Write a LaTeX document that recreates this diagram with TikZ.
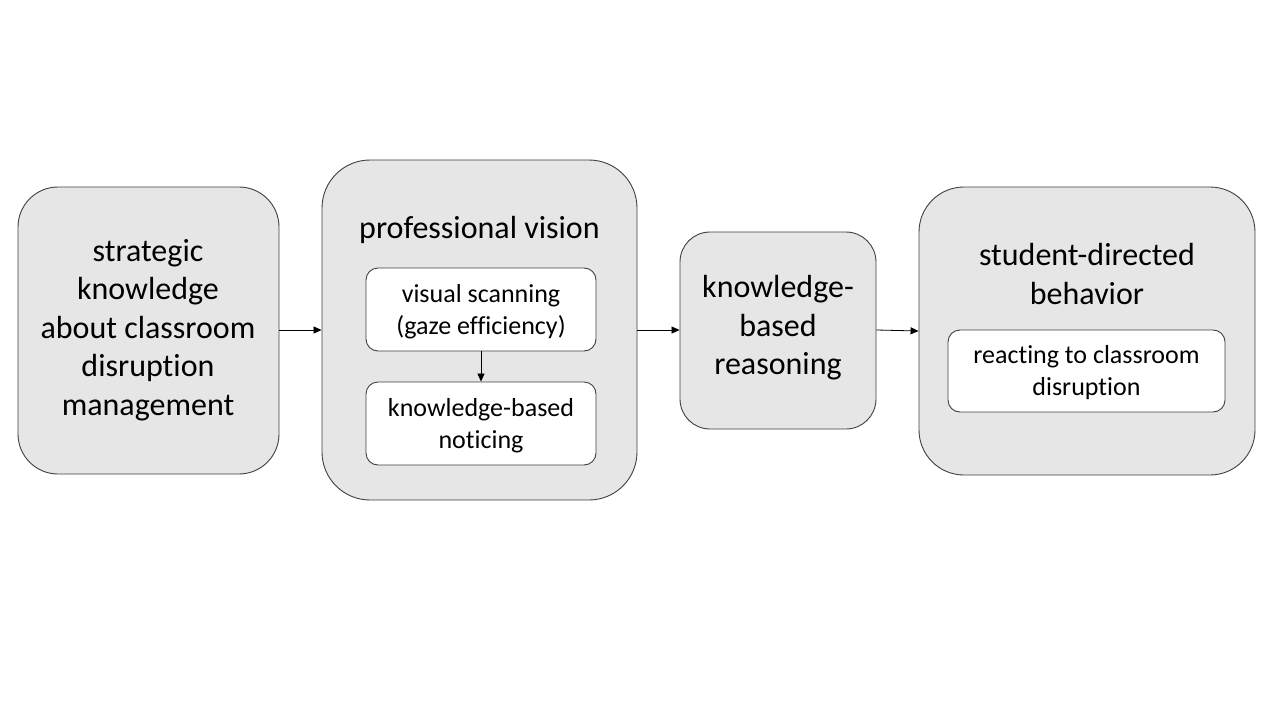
\documentclass[tikz,border=0pt]{standalone}
\usepackage{fontspec}
\setmainfont{Carlito}[Ligatures=NoCommon]
\usetikzlibrary{arrows.meta}
\definecolor{boxfill}{HTML}{E7E6E6}
\definecolor{boxline}{HTML}{404040}
\tikzset{
  outerbox/.style={draw=boxline, line width=0.9pt, fill=boxfill, inner sep=0pt},
  innerbox/.style={draw=boxline, line width=0.9pt, fill=white, inner sep=0pt, rounded corners=12pt},
  smalltext/.style={align=center, font=\fontsize{26}{32}\selectfont, inner sep=0pt},
  bigtext/.style={align=center, font=\fontsize{32}{38.5}\selectfont, inner sep=0pt},
  conn/.style={draw=black, line width=0.8pt, -{Triangle[length=8pt,width=7pt]}}
}
\begin{document}
\begin{tikzpicture}[x=1pt,y=-1pt]
\useasboundingbox (0,0) rectangle (1280,720);
% box 1
\node[outerbox, rounded corners=40pt, minimum width=261pt, minimum height=287pt] (b1) at (148.5,330.5) {};
\node[bigtext] (t1) at (148,330) {strategic\\knowledge\\about classroom\\disruption\\management};
% box 2
\node[outerbox, rounded corners=48pt, minimum width=315pt, minimum height=340pt] (b2) at (479.5,330) {};
\node[bigtext] (t2) at (479.5,230) {professional vision};
\node[innerbox, minimum width=230pt, minimum height=83pt] (i1) at (481,309.5) {};
\node[smalltext] (s1) at (481,312) {visual scanning\\(gaze efficiency)};
\node[innerbox, minimum width=230pt, minimum height=83pt] (i2) at (481,423.5) {};
\node[smalltext] (s2) at (481,426) {knowledge-based\\noticing};
% box 3
\node[outerbox, rounded corners=30pt, minimum width=196pt, minimum height=197pt] (b3) at (778,330.5) {};
\node[bigtext] (t3) at (778,328) {knowledge-\\based\\reasoning};
% box 4
\node[outerbox, rounded corners=45pt, minimum width=336pt, minimum height=288pt] (b4) at (1087,331) {};
\node[bigtext] (t4) at (1087,274) {student-directed\\behavior};
\node[innerbox, minimum width=277pt, minimum height=82pt] (i4) at (1086.5,371) {};
\node[smalltext] (s4) at (1086.5,373) {reacting to classroom\\disruption};
% connectors
\draw[conn] (b1.east |- 0,330) -- (b2.west |- 0,330);
\draw[conn] (b2.east |- 0,330) -- (b3.west |- 0,330);
\draw[conn] (b3.east |- 0,330) -- (b4.west |- 0,331);
\draw[conn] (i1.south) -- (i2.north);
\end{tikzpicture}
\end{document}
